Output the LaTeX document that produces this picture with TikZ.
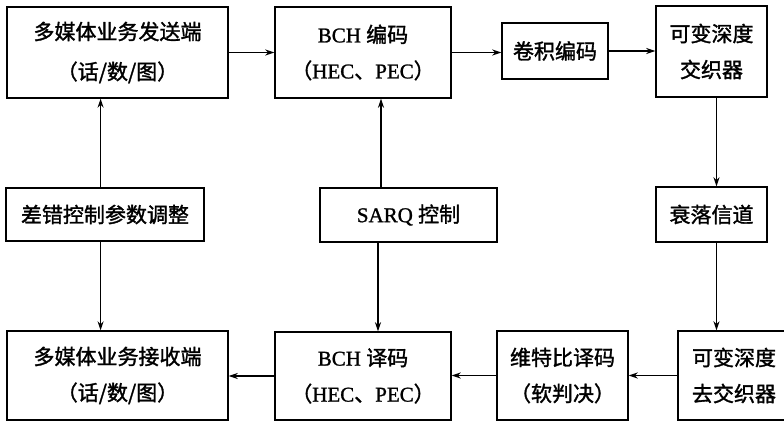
\documentclass[tikz,border=0pt]{standalone}
\usepackage{fontspec}
\setmainfont{Liberation Serif}[FakeBold=1.2]
\newfontfamily\cjk{Noto Sans CJK SC}[FakeBold=1.5]
\usetikzlibrary{arrows.meta}
\newcommand\zhs[1]{{\cjk #1}}
\begin{document}
\begin{tikzpicture}[x=1pt,y=-1pt,
  box/.style={draw,line width=1.4pt,align=center,inner sep=0pt,font=\fontsize{21}{36}\selectfont},
  arr/.style={line width=1.4pt,-{Stealth[length=9pt,width=6pt]}}]
\useasboundingbox (0,0) rectangle (784,424);
\node[box,minimum width=221pt,minimum height=91pt] (send) at (117.5,52.5) {\zhs{多媒体业务发送端}\\[4pt]\zhs{（话/数/图）}};
\node[box,minimum width=176pt,minimum height=91pt] (bchenc) at (363,52.5) {BCH \zhs{编码}\\\zhs{（}HEC\zhs{、}PEC\zhs{）}};
\node[box,minimum width=106pt,minimum height=56pt] (conv) at (555,51) {\zhs{卷积编码}};
\node[box,minimum width=111pt,minimum height=91pt] (intl) at (711.5,51.5) {\zhs{可变深度}\\\zhs{交织器}};
\node[box,minimum width=111pt,minimum height=55pt] (fade) at (711.5,214.5) {\zhs{衰落信道}};
\node[box,minimum width=198pt,minimum height=53pt] (err) at (105,214.5) {\zhs{差错控制参数调整}};
\node[box,minimum width=177pt,minimum height=54pt] (sarq) at (408.5,215) {SARQ \zhs{控制}};
\node[box,minimum width=221pt,minimum height=89pt] (recv) at (117.5,375.5) {\zhs{多媒体业务接收端}\\\zhs{（话/数/图）}};
\node[box,minimum width=176pt,minimum height=88pt] (bchdec) at (363,376) {BCH \zhs{译码}\\\zhs{（}HEC\zhs{、}PEC\zhs{）}};
\node[box,minimum width=131pt,minimum height=89pt] (vit) at (562.5,375.5) {\zhs{维特比译码}\\\zhs{（软判决）}};
\node[box,minimum width=112pt,minimum height=89pt] (deint) at (734,375.5) {\zhs{可变深度}\\\zhs{去交织器}};
\coordinate (c1) at (100.6,0);
\coordinate (c2) at (381,0);
\coordinate (c3) at (378,0);
\coordinate (c4) at (716.5,0);
\draw[arr] (send.east) -- (bchenc.west);
\draw[arr] (bchenc.east) -- (bchenc.east -| conv.west);
\draw[arr] (conv.east) -- (conv.east -| intl.west);
\draw[arr] (intl.south -| c4) -- (fade.north -| c4);
\draw[arr] (fade.south -| c4) -- (deint.north -| c4);
\draw[arr] (deint.west) -- (deint.west -| vit.east);
\draw[arr] (vit.west) -- (vit.west -| bchdec.east);
\draw[arr] (bchdec.west) -- (bchdec.west -| recv.east);
\draw[arr] (err.north -| c1) -- (send.south -| c1);
\draw[arr] (err.south -| c1) -- (recv.north -| c1);
\draw[arr] (sarq.north -| c2) -- (bchenc.south -| c2);
\draw[arr] (sarq.south -| c3) -- (bchdec.north -| c3);
\end{tikzpicture}
\end{document}
